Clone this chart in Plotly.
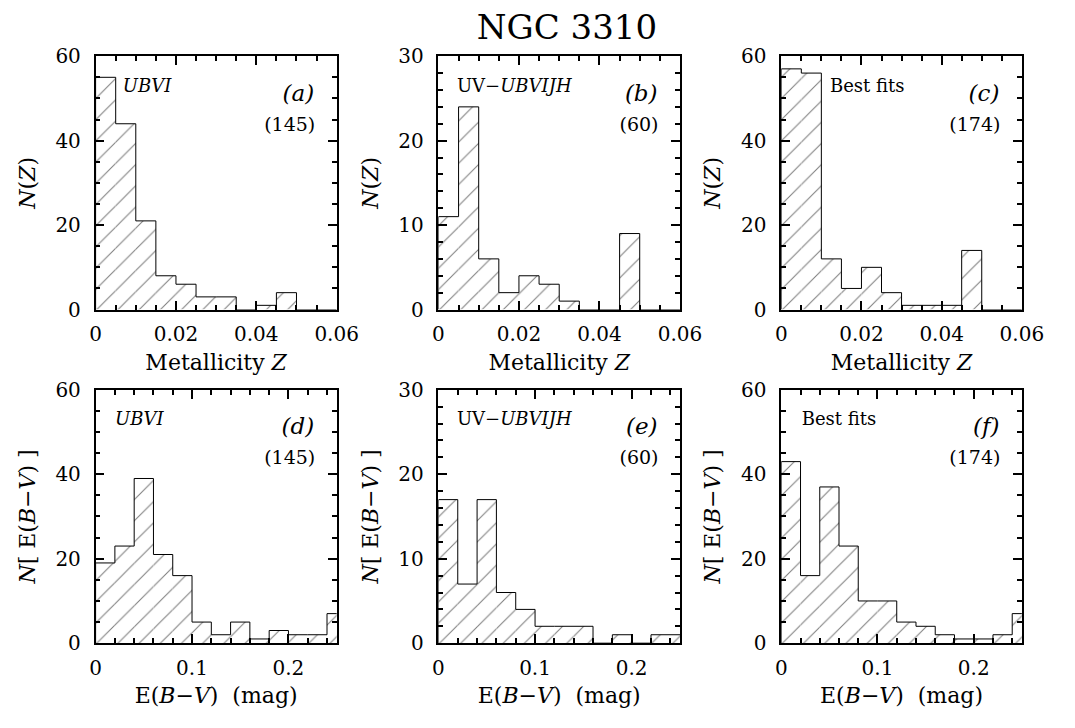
import plotly.graph_objects as go

# ---- data -------------------------------------------------------------
# Metallicity histograms (bins of 0.005 starting at Z = 0)
z_bin = 0.005
n_z_ubvi = [55, 44, 21, 8, 6, 3, 3, 0, 1, 4, 0, 0]
n_z_uv = [11, 24, 6, 2, 4, 3, 1, 0, 0, 9, 0, 0]
n_z_best = [57, 56, 12, 5, 10, 4, 1, 1, 1, 14, 0, 0]

# Reddening histograms (bins of 0.02 mag starting at 0)
ebv_bin = 0.02
n_ebv_ubvi = [19, 23, 39, 21, 16, 5, 2, 5, 1, 3, 2, 2, 7]
n_ebv_uv = [17, 7, 17, 6, 4, 2, 2, 2, 0, 1, 0, 1, 1]
n_ebv_best = [43, 16, 37, 23, 10, 10, 5, 4, 2, 1, 1, 2, 7]

sample_names = ["<i>UBVI</i>", "UV\u2212<i>UBVIJH</i>", "Best fits"]
sample_sizes = ["(145)", "(60)", "(174)"]
panel_letters = ["a", "b", "c", "d", "e", "f"]

# ---- layout geometry (pixels in a 1075 x 728 canvas) -----------------
W, H = 1075, 728
col_px = [(92, 339.5), (444, 692), (796, 1043)]
row_px = [(45.7, 307.7), (390.7, 652.7)]


def px(x):
    return x / W


def py(y):
    return 1 - y / H


FONT = "DejaVu Serif"
BLACK = "black"

panels = [
    # (counts, bin width, y max, y major, y minor, x max, x major, x minor)
    (n_z_ubvi, z_bin, 60, 20, 5, 0.06, 0.02, 0.005),
    (n_z_uv, z_bin, 30, 10, 2, 0.06, 0.02, 0.005),
    (n_z_best, z_bin, 60, 20, 5, 0.06, 0.02, 0.005),
    (n_ebv_ubvi, ebv_bin, 60, 20, 5, 0.25, 0.1, 0.02),
    (n_ebv_uv, ebv_bin, 30, 10, 2, 0.25, 0.1, 0.02),
    (n_ebv_best, ebv_bin, 60, 20, 5, 0.25, 0.1, 0.02),
]

fig = go.Figure()
layout = {}

name_offsets = [28, 19, 50, 20, 19, 21]  # left inset of the sample name (px)

for i, (counts, bw, ymax, ymaj, ymin_, xmax, xmaj, xmin_) in enumerate(panels):
    k = i + 1
    row, col = divmod(i, 3)
    xa = "x" if k == 1 else f"x{k}"
    ya = "y" if k == 1 else f"y{k}"
    x0, x1 = col_px[col]
    y0, y1 = row_px[row]
    pw, ph = x1 - x0, y1 - y0

    centers = [bw * (j + 0.5) for j in range(len(counts))]
    edges = [bw * j for j in range(len(counts) + 1)]

    # hatched bars
    fig.add_trace(go.Bar(
        x=centers, y=counts, width=bw,
        marker=dict(
            color="white",
            line=dict(width=0),
            pattern=dict(shape="/", fgcolor=BLACK, bgcolor="white",
                         size=15, solidity=0.07),
        ),
        xaxis=xa, yaxis=ya, showlegend=False,
    ))

    # stepped outline of the histogram
    sx, sy = [edges[0]], [0]
    for j, c in enumerate(counts):
        sx += [edges[j], edges[j + 1]]
        sy += [c, c]
    sx.append(edges[-1])
    sy.append(0)
    fig.add_trace(go.Scatter(
        x=sx, y=sy, mode="lines", line=dict(color=BLACK, width=1),
        xaxis=xa, yaxis=ya, showlegend=False,
    ))

    # in-panel labels, placed in axis fractions of the panel
    def fx(off):
        return xmax * off / pw

    def fy(off):
        return ymax * (1 - off / ph)

    fig.add_trace(go.Scatter(
        x=[fx(name_offsets[i])], y=[fy(32)], mode="text",
        text=[sample_names[col]], textposition="middle right",
        textfont=dict(family=FONT, size=18, color=BLACK),
        cliponaxis=False, xaxis=xa, yaxis=ya, showlegend=False,
    ))
    fig.add_trace(go.Scatter(
        x=[fx(pw - 23)], y=[fy(40)], mode="text",
        text=[f"<i>({panel_letters[i]})</i>"], textposition="middle left",
        textfont=dict(family=FONT, size=23, color=BLACK),
        cliponaxis=False, xaxis=xa, yaxis=ya, showlegend=False,
    ))
    fig.add_trace(go.Scatter(
        x=[fx(pw - 22)], y=[fy(72)], mode="text",
        text=[sample_sizes[col]], textposition="middle left",
        textfont=dict(family=FONT, size=19, color=BLACK),
        cliponaxis=False, xaxis=xa, yaxis=ya, showlegend=False,
    ))

    xtitle = ("Metallicity <i>Z</i>" if row == 0
              else "E(<i>B</i>\u2212<i>V</i>)  (mag)")
    ytitle = ("<i>N</i>(<i>Z</i>)" if row == 0
              else "<i>N</i>[ E(<i>B</i>\u2212<i>V</i>) ]")

    axis_common = dict(
        showline=True, linecolor=BLACK, linewidth=1.5, mirror="ticks",
        ticks="inside", ticklen=9, tickwidth=1.5, tickcolor=BLACK,
        showgrid=False, zeroline=False,
        tickfont=dict(family=FONT, size=20, color=BLACK),
    )
    layout["xaxis" if k == 1 else f"xaxis{k}"] = dict(
        axis_common,
        domain=[px(x0), px(x1)], anchor=ya, range=[0, xmax],
        tickmode="linear", tick0=0, dtick=xmaj, ticklabelstandoff=6,
        minor=dict(ticks="inside", ticklen=5, tickcolor=BLACK, dtick=xmin_),
        title=dict(text=xtitle, standoff=9,
                   font=dict(family=FONT, size=22, color=BLACK)),
    )
    layout["yaxis" if k == 1 else f"yaxis{k}"] = dict(
        axis_common,
        domain=[py(y1), py(y0)], anchor=xa, range=[0, ymax],
        tickmode="linear", tick0=0, dtick=ymaj, ticklabelstandoff=9,
        minor=dict(ticks="inside", ticklen=5, tickcolor=BLACK, dtick=ymin_),
        title=dict(text=ytitle, standoff=14,
                   font=dict(family=FONT, size=22, color=BLACK)),
    )

fig.update_layout(
    width=W, height=H,
    margin=dict(l=0, r=0, t=0, b=0),
    paper_bgcolor="white", plot_bgcolor="white",
    barmode="overlay", showlegend=False,
    title=dict(text="NGC 3310", x=px(576), y=py(16), xref="paper",
               yref="paper", xanchor="center", yanchor="middle",
               font=dict(family=FONT, size=34, color=BLACK)),
    **layout,
)

fig.write_html("out.html")
